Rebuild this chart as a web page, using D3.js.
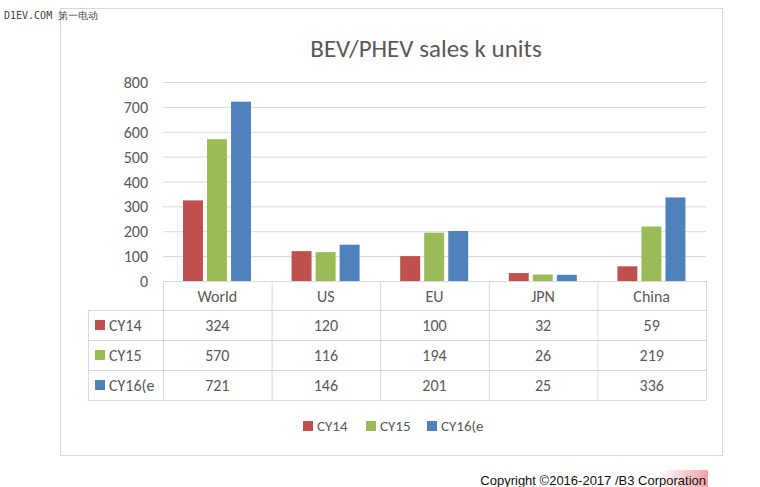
<!DOCTYPE html><html><head><meta charset="utf-8"><script src="https://cdn.jsdelivr.net/npm/d3@7"></script>
<style>body{margin:0;background:#fff}text{font-family:Calibri,Carlito,"Open Sans",sans-serif}</style></head><body><svg id="c" width="760" height="487"></svg><script>
const categories=["World","US","EU","JPN","China"];
const seriesNames=["CY14","CY15","CY16(e"];
const cy14=[324,120,100,32,59];
const cy15=[570,116,194,26,219];
const cy16=[721,146,201,25,336];
const yTicks=[0,100,200,300,400,500,600,700,800];
const colors=["#c0504d","#9bbb59","#4f81bd"];
const series=[cy14,cy15,cy16];
const svg=d3.select("#c");
svg.append("rect").attr("x",60.5).attr("y",8.5).attr("width",662).attr("height",447).attr("fill","#fff").attr("stroke","#d9d9d9");
svg.append("text").attr("x",4).attr("y",19).attr("font-size",10).attr("fill","#444").style("font-family","DejaVu Sans Mono").text("D1EV.COM 第一电动");
svg.append("text").attr("x",426).attr("y",57).attr("text-anchor","middle").attr("font-size",25).attr("fill","#595959").text("BEV/PHEV sales k units");
const x=d3.scaleBand().domain(categories).range([163,706]);
const y=d3.scaleLinear().domain([0,800]).range([281,82]);
const g=svg.append("g");
yTicks.forEach(t=>{g.append("line").attr("x1",163).attr("x2",706).attr("y1",y(t)+.5).attr("y2",y(t)+.5).attr("stroke","#d9d9d9");
g.append("text").attr("x",148).attr("y",y(t)+6).attr("text-anchor","end").attr("font-size",16).attr("fill","#595959").text(t);});
const xs=d3.scaleBand().domain(seriesNames).range([20,88]).paddingInner(0.17);
series.forEach((s,i)=>s.forEach((v,j)=>g.append("rect").attr("x",x(categories[j])+xs(seriesNames[i])).attr("width",xs.bandwidth()).attr("y",y(v)).attr("height",y(0)-y(v)).attr("fill",colors[i])));
// table
const tg=svg.append("g").attr("stroke","#d9d9d9");
const rowsY=[281,310,340,370,400];
tg.append("line").attr("x1",163).attr("x2",706).attr("y1",281.5).attr("y2",281.5);
[310,340,370,400].forEach(r=>tg.append("line").attr("x1",88).attr("x2",706).attr("y1",r+.5).attr("y2",r+.5));
categories.forEach(c=>tg.append("line").attr("x1",x(c)+.5).attr("x2",x(c)+.5).attr("y1",281).attr("y2",400));
tg.append("line").attr("x1",706.5).attr("x2",706.5).attr("y1",281).attr("y2",400);
tg.append("line").attr("x1",88.5).attr("x2",88.5).attr("y1",310).attr("y2",400);
categories.forEach(c=>svg.append("text").attr("x",x(c)+x.bandwidth()/2).attr("y",302).attr("text-anchor","middle").attr("font-size",16).attr("fill","#595959").text(c));
series.forEach((s,i)=>{const cy=rowsY[i+1]+15;
svg.append("rect").attr("x",95).attr("y",cy-5).attr("width",10).attr("height",10).attr("fill",colors[i]);
svg.append("text").attr("x",109).attr("y",cy+6).attr("font-size",16).attr("fill","#595959").text(seriesNames[i]);
s.forEach((v,j)=>svg.append("text").attr("x",x(categories[j])+x.bandwidth()/2).attr("y",cy+6).attr("text-anchor","middle").attr("font-size",16).attr("fill","#595959").text(v));});
// legend
const lx=[303,366,427];
seriesNames.forEach((n,i)=>{svg.append("rect").attr("x",lx[i]).attr("y",421).attr("width",10).attr("height",10).attr("fill",colors[i]);
svg.append("text").attr("x",lx[i]+14).attr("y",431).attr("font-size",15).attr("fill","#595959").text(n);});
const grad=svg.append("defs").append("linearGradient").attr("id","pg");
grad.append("stop").attr("offset","0").attr("stop-color","#fff");grad.append("stop").attr("offset","1").attr("stop-color","#f4a0a8");
svg.append("rect").attr("x",660).attr("y",470).attr("width",48).attr("height",17).attr("fill","url(#pg)");
svg.append("text").attr("x",706).attr("y",485).attr("text-anchor","end").attr("font-size",13).attr("fill","#111").style("font-family","Liberation Sans").text("Copyright ©2016-2017 /B3 Corporation");
</script></body></html>
